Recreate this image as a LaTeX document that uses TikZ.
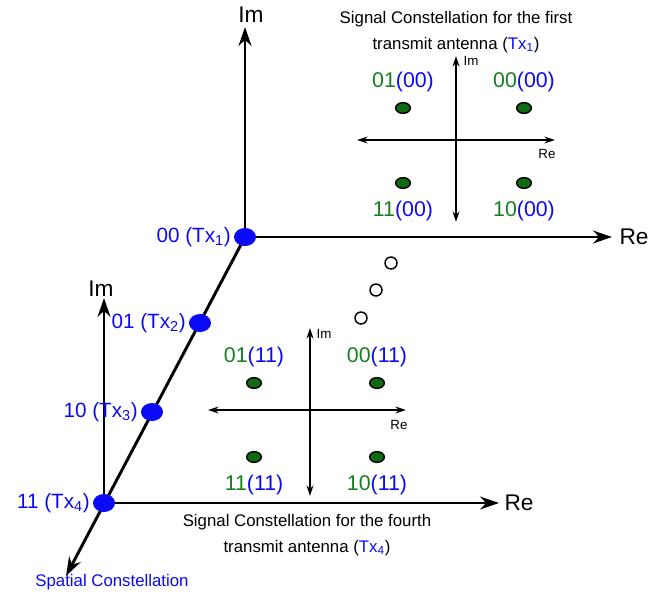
\documentclass[tikz,border=0pt]{standalone}
\usepackage{fontspec}
\setmainfont{Liberation Sans}
\usetikzlibrary{arrows.meta,positioning,shapes.geometric}
\definecolor{scInk}{HTML}{000000}
\definecolor{scBlue}{HTML}{0A0AF5}
\definecolor{scGreen}{HTML}{14801E}
\definecolor{scDot}{HTML}{0E6B12}
\tikzset{
  every picture/.style={text=scInk},
  sc axis/.style={draw=scInk, line width=2.2pt, line cap=butt,
    -{Stealth[length=5mm,width=3.4mm]}},
  sc small axis/.style={draw=scInk, line width=1.1pt,
    {Stealth[length=2.8mm,width=1.8mm]}-{Stealth[length=2.8mm,width=1.8mm]}},
  sc big label/.style={font=\fontsize{17}{20}\selectfont},
  sc small label/.style={font=\fontsize{10}{12}\selectfont},
  sc tx label/.style={font=\fontsize{15.5}{18}\selectfont, text=scBlue, inner sep=1pt},
  sc sym label/.style={font=\fontsize{16}{18}\selectfont, text=scBlue, inner sep=1pt},
  sc title/.style={font=\fontsize{12.6}{19}\selectfont, align=center},
  sc spatial dot/.style={ellipse, fill=scBlue, minimum width=16.5pt,
    minimum height=13.5pt, inner sep=0pt},
  sc qam dot/.style={ellipse, draw=scInk, line width=1.1pt, fill=scDot,
    minimum width=11pt, minimum height=8pt, inner sep=0pt},
  sc empty dot/.style={circle, draw=scInk, line width=1.1pt, fill=white,
    minimum size=9pt, inner sep=0pt}
}
\newcommand{\symb}[2]{\textcolor{scGreen}{#1}(#2)}

\begin{document}
\begin{tikzpicture}[x=0.75pt,y=-0.75pt]
  \useasboundingbox (0,0) rectangle (654,596);

  % spatial axes
  \coordinate (o1) at (245,237);
  \coordinate (o4) at (104,503);
  \coordinate (im1) at (245,27);
  \coordinate (re1) at (612,237);
  \coordinate (im4) at (104,298);
  \coordinate (re4) at (499,503);
  \coordinate (sp) at (66,576);
  \draw[sc axis] (o1) -- (im1);
  \draw[sc axis] (o1) -- (re1);
  \draw[sc axis] (o4) -- (im4);
  \draw[sc axis] (o4) -- (re4);
  \draw[sc axis] (o1) -- (sp);
  \node[sc big label] (imtop) at (251,15) {Im};
  \node[sc big label] (retop) at (634,237) {Re};
  \node[sc big label] (imbot) at (101,289) {Im};
  \node[sc big label] (rebot) at (519,503) {Re};
  \node[sc title, text=scBlue] (spatial) at (112,582) {Spatial Constellation};

  % transmit antennas
  \node[sc spatial dot] (tx1) at (o1) {};
  \node[sc spatial dot] (tx2) at (200,323) {};
  \node[sc spatial dot] (tx3) at (152,412) {};
  \node[sc spatial dot] (tx4) at (o4) {};
  \node[sc tx label, left=1pt of tx1] {00 (Tx\textsubscript{1})};
  \node[sc tx label, left=1pt of tx2] {01 (Tx\textsubscript{2})};
  \node[sc tx label, left=1pt of tx3] {10 (Tx\textsubscript{3})};
  \node[sc tx label, left=1pt of tx4] {11 (Tx\textsubscript{4})};

  % dots for the antennas in between
  \node[sc empty dot] (gap1) at (391,263) {};
  \node[sc empty dot] (gap2) at (376,290) {};
  \node[sc empty dot] (gap3) at (361,318) {};

  % constellation of the first antenna
  \coordinate (ca west) at (357,140);
  \coordinate (ca east) at (555,140);
  \coordinate (ca north) at (456,56);
  \coordinate (ca south) at (456,222);
  \draw[sc small axis] (ca west) -- (ca east);
  \draw[sc small axis] (ca south) -- (ca north);
  \node[sc small label] (ca im) at (471,61) {Im};
  \node[sc small label] (ca re) at (547,154) {Re};
  \node[sc qam dot] (a01) at (403,108) {};
  \node[sc qam dot] (a00) at (524,108) {};
  \node[sc qam dot] (a11) at (403,183) {};
  \node[sc qam dot] (a10) at (524,183) {};
  \node[sc sym label, above=6pt of a01] {\symb{01}{00}};
  \node[sc sym label, above=6pt of a00] {\symb{00}{00}};
  \node[sc sym label, below=8pt of a11] {\symb{11}{00}};
  \node[sc sym label, below=8pt of a10] {\symb{10}{00}};
  \node[sc title] (ca title) at (456,32)
    {Signal Constellation for the first\\transmit antenna (\textcolor{scBlue}{Tx\textsubscript{1}})};

  % constellation of the fourth antenna
  \coordinate (cd west) at (208,410);
  \coordinate (cd east) at (406,410);
  \coordinate (cd north) at (310,328);
  \coordinate (cd south) at (310,496);
  \draw[sc small axis] (cd west) -- (cd east);
  \draw[sc small axis] (cd south) -- (cd north);
  \node[sc small label] (cd im) at (324,334) {Im};
  \node[sc small label] (cd re) at (399,425) {Re};
  \node[sc qam dot] (d01) at (254,383) {};
  \node[sc qam dot] (d00) at (377,383) {};
  \node[sc qam dot] (d11) at (254,457) {};
  \node[sc qam dot] (d10) at (377,457) {};
  \node[sc sym label, above=6pt of d01] {\symb{01}{11}};
  \node[sc sym label, above=6pt of d00] {\symb{00}{11}};
  \node[sc sym label, below=8pt of d11] {\symb{11}{11}};
  \node[sc sym label, below=8pt of d10] {\symb{10}{11}};
  \node[sc title] (cd title) at (307,535)
    {Signal Constellation for the fourth\\transmit antenna (\textcolor{scBlue}{Tx\textsubscript{4}})};
\end{tikzpicture}
\end{document}
